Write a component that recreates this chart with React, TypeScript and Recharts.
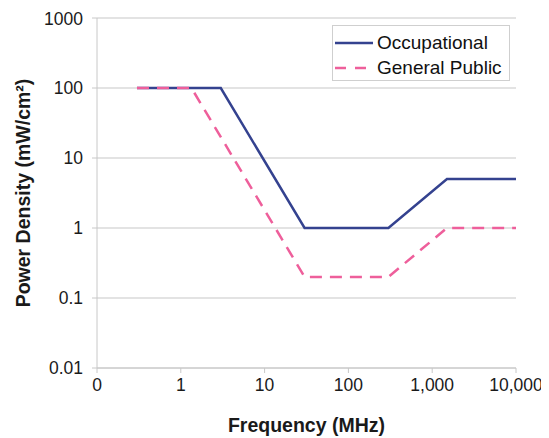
import React from 'react';
import { LineChart, Line, XAxis, YAxis, CartesianGrid, Label } from 'recharts';

const occupationalFreq = [0.3, 3, 30, 300, 1500, 10000];
const occupationalPower = [100, 100, 1, 1, 5, 5];
const publicFreq = [0.3, 1.34, 30, 300, 1500, 10000];
const publicPower = [100, 100, 0.2, 0.2, 1, 1];
const xTicks = [0.1, 1, 10, 100, 1000, 10000];
const yTicks = [0.01, 0.1, 1, 10, 100, 1000];

const occData = occupationalFreq.map((f, i) => ({ f, p: occupationalPower[i] }));
const pubData = publicFreq.map((f, i) => ({ f, p: publicPower[i] }));

const NAVY = '#34428f';
const PINK = '#ee5f9b';
const FONT = '"Liberation Sans", Arial, sans-serif';

const fmtX = (v: number) => (v < 1 ? '0' : v.toLocaleString('en-US'));
const fmtY = (v: number) => String(v);

const LegendBox = () => (
  <div
    style={{
      position: 'absolute',
      top: 17,
      left: 324,
      border: '1px solid #cfcfcf',
      background: '#fff',
      width: 178,
      height: 56,
      boxSizing: 'border-box',
      fontFamily: FONT,
      fontSize: 19,
      color: '#111',
      padding: '4px 0 0 2px',
    }}
  >
    <div style={{ display: 'flex', alignItems: 'center', height: 25 }}>
      <svg width={38} height={10} style={{ marginRight: 4 }}>
        <line x1={0} y1={5} x2={38} y2={5} stroke={NAVY} strokeWidth={2.5} />
      </svg>
      <span>Occupational</span>
    </div>
    <div style={{ display: 'flex', alignItems: 'center', height: 25 }}>
      <svg width={38} height={10} style={{ marginRight: 4 }}>
        <line x1={0} y1={5} x2={38} y2={5} stroke={PINK} strokeWidth={2.5} strokeDasharray="11 9" />
      </svg>
      <span>General Public</span>
    </div>
  </div>
);

export default function App() {
  return (
    <div style={{ position: 'relative', width: 541, height: 430 }}>
      <LineChart
        width={541}
        height={430}
        margin={{ top: 10, right: 33, bottom: 0, left: 0 }}
        style={{ fontFamily: FONT }}
      >
        <CartesianGrid horizontal vertical={false} stroke="#c8c8c8" strokeWidth={1.2} />
        <XAxis
          type="number"
          dataKey="f"
          scale="log"
          domain={[0.1, 10000]}
          ticks={xTicks}
          tickFormatter={fmtX}
          allowDataOverflow
          height={70}
          stroke="#c8c8c8"
          tickSize={5}
          tickMargin={6}
          tick={{ fill: '#1a1a1a', fontSize: 17.5, fontFamily: FONT }}
        >
          <Label
            value="Frequency (MHz)"
            position="insideBottom"
            offset={6}
            style={{ fontWeight: 'bold', fontSize: 19.5, fill: '#1a1a1a', fontFamily: FONT }}
          />
        </XAxis>
        <YAxis
          type="number"
          dataKey="p"
          scale="log"
          domain={[0.01, 1000]}
          ticks={yTicks}
          tickFormatter={fmtY}
          allowDataOverflow
          width={89}
          stroke="#c8c8c8"
          tickSize={5}
          tickMargin={9}
          tick={{ fill: '#1a1a1a', fontSize: 17.5, fontFamily: FONT }}
        >
          <Label
            value="Power Density (mW/cm²)"
            angle={-90}
            position="insideLeft"
            offset={15}
            style={{ textAnchor: 'middle', fontWeight: 'bold', fontSize: 19.5, fill: '#1a1a1a', fontFamily: FONT }}
          />
        </YAxis>
        <Line
          data={occData}
          dataKey="p"
          name="Occupational"
          stroke={NAVY}
          strokeWidth={2.5}
          dot={false}
          isAnimationActive={false}
        />
        <Line
          data={pubData}
          dataKey="p"
          name="General Public"
          stroke={PINK}
          strokeWidth={2.5}
          strokeDasharray="12 8"
          dot={false}
          isAnimationActive={false}
        />
      </LineChart>
      <LegendBox />
    </div>
  );
}
